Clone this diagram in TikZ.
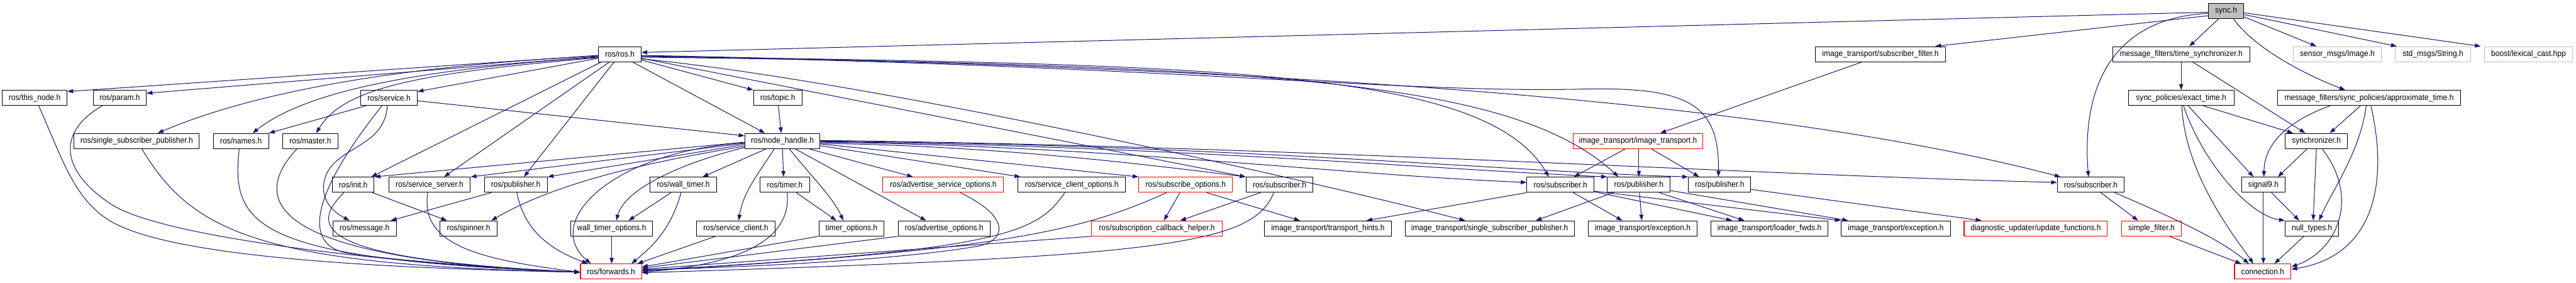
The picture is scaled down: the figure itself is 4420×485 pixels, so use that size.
\documentclass[tikz,border=0pt]{standalone}
\usepackage{fontspec}
\setmainfont{Liberation Sans}[FakeStretch=0.93]
\usetikzlibrary{arrows.meta}
\definecolor{edgec}{RGB}{25,25,112}
\definecolor{graybd}{RGB}{191,191,191}
\definecolor{redbd}{RGB}{255,0,0}
\begin{document}
\begin{tikzpicture}[x=1pt,y=-1pt,
  box/.style={draw=black, line width=1.1pt, fill=white, minimum height=26pt, inner sep=0pt, font=\fontsize{14}{16}\selectfont, text=black},
  redbox/.style={box, draw=redbd},
  extbox/.style={box, draw=graybd},
  rootbox/.style={box, fill=graybd},
  e/.style={draw=edgec, line width=1.1pt, -{Triangle[length=10pt,width=7pt]}}]
\useasboundingbox (0,0) rectangle (4420,485);
% row A
\node[rootbox, minimum width=61pt] (sync) at (3819.5,19) {sync.h};
% row B
\node[box, minimum width=73pt] (ros) at (1063.5,93) {ros/ros.h};
\node[box, minimum width=223pt] (subfilter) at (3226.5,93) {image\_transport/subscriber\_filter.h};
\node[box, minimum width=235pt] (timesync) at (3742.5,93) {message\_filters/time\_synchronizer.h};
\node[extbox, minimum width=151pt] (img) at (4010.5,93) {sensor\_msgs/Image.h};
\node[extbox, minimum width=129pt] (str) at (4174.5,93) {std\_msgs/String.h};
\node[extbox, minimum width=151pt] (lex) at (4338.5,93) {boost/lexical\_cast.hpp};
% row C
\node[box, minimum width=111pt] (thisnode) at (59.5,168) {ros/this\_node.h};
\node[box, minimum width=91pt] (param) at (205.5,168) {ros/param.h};
\node[box, minimum width=97pt] (service) at (667.5,168) {ros/service.h};
\node[box, minimum width=83pt] (topic) at (1334.5,168) {ros/topic.h};
\node[box, minimum width=181pt] (exact) at (3742.5,168) {sync\_policies/exact\_time.h};
\node[box, minimum width=314pt] (approx) at (4065,168) {message\_filters/sync\_policies/approximate\_time.h};
% row D
\node[box, minimum width=215pt] (ssp) at (234.5,242) {ros/single\_subscriber\_publisher.h};
\node[box, minimum width=95pt] (names) at (413.5,242) {ros/names.h};
\node[box, minimum width=95pt] (master) at (532.5,242) {ros/master.h};
\node[box, minimum width=129pt] (nh) at (1342.5,242) {ros/node\_handle.h};
\node[redbox, minimum width=223pt] (itrans) at (2810.5,242) {image\_transport/image\_transport.h};
\node[box, minimum width=107pt] (synchronizer) at (3974.5,242) {synchronizer.h};
% row E
\node[box, minimum width=72pt] (init) at (606,317) {ros/init.h};
\node[box, minimum width=140pt] (sserver) at (737,317) {ros/service\_server.h};
\node[box, minimum width=108pt] (pub1) at (885,317) {ros/publisher.h};
\node[box, minimum width=115pt] (wtimer) at (1172.5,317) {ros/wall\_timer.h};
\node[box, minimum width=85pt] (timer) at (1346.5,317) {ros/timer.h};
\node[redbox, minimum width=207pt] (aso) at (1618.5,317) {ros/advertise\_service\_options.h};
\node[box, minimum width=184pt] (sco) at (1839,317) {ros/service\_client\_options.h};
\node[redbox, minimum width=161pt] (subopts) at (2034.5,317) {ros/subscribe\_options.h};
\node[box, minimum width=115pt] (sub1) at (2195.5,317) {ros/subscriber.h};
\node[box, minimum width=115pt] (sub2) at (2677.5,317) {ros/subscriber.h};
\node[box, minimum width=108pt] (pub2) at (2812,317) {ros/publisher.h};
\node[box, minimum width=107pt] (pub3) at (2950.5,317) {ros/publisher.h};
\node[box, minimum width=115pt] (sub3) at (3587.5,317) {ros/subscriber.h};
\node[box, minimum width=75pt] (signal9) at (3883.5,317) {signal9.h};
% row F
\node[box, minimum width=109pt] (message) at (625.5,392) {ros/message.h};
\node[box, minimum width=98pt] (spinner) at (804,392) {ros/spinner.h};
\node[box, minimum width=141pt] (wto) at (1049.5,392) {wall\_timer\_options.h};
\node[box, minimum width=135pt] (sclient) at (1262.5,392) {ros/service\_client.h};
\node[box, minimum width=112pt] (topts) at (1461,392) {timer\_options.h};
\node[box, minimum width=158pt] (adopts) at (1620,392) {ros/advertise\_options.h};
\node[redbox, minimum width=224pt] (sch) at (1985,392) {ros/subscription\_callback\_helper.h};
\node[box, minimum width=217pt] (hints) at (2278.5,392) {image\_transport/transport\_hints.h};
\node[box, minimum width=290pt] (itssp) at (2556,392) {image\_transport/single\_subscriber\_publisher.h};
\node[box, minimum width=187pt] (exc1) at (2818.5,392) {image\_transport/exception.h};
\node[box, minimum width=200pt] (loader) at (3036,392) {image\_transport/loader\_fwds.h};
\node[box, minimum width=188pt] (exc2) at (3253,392) {image\_transport/exception.h};
\node[redbox, minimum width=246pt] (diag) at (3493,392) {diagnostic\_updater/update\_functions.h};
\node[redbox, minimum width=103pt] (simple) at (3691.5,392) {simple\_filter.h};
\node[box, minimum width=92pt] (nulltypes) at (3967,392) {null\_types.h};
% row G
\node[redbox, minimum width=105pt] (forwards) at (1048.5,466) {ros/forwards.h};
\node[redbox, minimum width=97pt] (connection) at (3882.5,466) {connection.h};

% ---- sync.h
\draw[e] ([yshift=-2pt]sync.west) -- ([yshift=3pt]ros.east);
\draw[e] ([yshift=-8pt]sync.west) -- ([xshift=94pt]subfilter.north);
\draw[e] ([yshift=-4pt]sync.west) .. controls (3640,30) and (3570,130) .. ([xshift=-4pt]sub3.north);
\draw[e] ([xshift=-13pt]sync.south) -- ([xshift=14pt]timesync.north);
\draw[e] ([xshift=13pt]sync.south) .. controls (3870,85) and (3960,130) .. ([xshift=-41pt]approx.north);
\draw[e] ([yshift=-10pt]sync.east) -- ([xshift=-36pt]img.north);
\draw[e] ([yshift=-6pt]sync.east) -- ([xshift=-62pt]str.north);
\draw[e] ([yshift=-3pt]sync.east) -- ([xshift=-82pt]lex.north);
% ---- message filters part
\draw[e] ([xshift=-32pt]subfilter.south) -- ([xshift=38pt]itrans.north);
\draw[e] (timesync.south) -- (exact.north);
\draw[e] ([xshift=20pt]timesync.south) -- ([xshift=-19pt]synchronizer.north);
\draw[e] ([xshift=38pt]exact.south) -- ([xshift=-40pt]synchronizer.north);
\draw[e] ([xshift=12pt]exact.south) -- ([xshift=-17pt]signal9.north);
\draw[e] ([xshift=4pt]exact.south) .. controls (3780,280) and (3860,370) .. (nulltypes.north west);
\draw[e] ([xshift=1pt]exact.south) .. controls (3750,300) and (3830,400) .. ([xshift=-16pt]connection.north);
\draw[e] ([xshift=-15pt]approx.south) -- ([xshift=23pt]synchronizer.north);
\draw[e] ([xshift=-67pt]approx.south) .. controls (3920,210) and (3885,250) .. ([xshift=1pt]signal9.north);
\draw[e] ([xshift=-5pt]approx.south) .. controls (4050,260) and (4000,330) .. ([xshift=12pt]nulltypes.north);
\draw[e] ([xshift=3pt]approx.south) .. controls (4100,320) and (4070,440) .. ([yshift=4pt]connection.east);
\draw[e] ([xshift=-16pt]synchronizer.south) -- ([xshift=25pt]signal9.north);
\draw[e] (synchronizer.south) -- ([xshift=2pt]nulltypes.north);
\draw[e] ([xshift=10pt]synchronizer.south) .. controls (4050,340) and (4010,430) .. ([yshift=8pt]connection.east);
\draw[e] (signal9.south) -- (signal9.south |- connection.north);
\draw[e] ([xshift=14pt]signal9.south) -- ([xshift=-22pt]nulltypes.north);
\draw[e] ([xshift=-14pt]nulltypes.south) -- ([xshift=20pt]connection.north);
\draw[e] ([xshift=17pt]sub3.south) -- ([xshift=-23pt]simple.north);
\draw[e] ([xshift=41pt]sub3.south) .. controls (3720,370) and (3810,410) .. ([xshift=-24pt]connection.north);
\draw[e] ([xshift=31pt]simple.south) -- ([xshift=-37pt]connection.north);
% ---- image_transport
\draw[e] ([xshift=-22pt]itrans.south) -- ([xshift=23pt]sub2.north);
\draw[e] ([xshift=1.5pt]itrans.south) -- (pub2.north);
\draw[e] ([xshift=23pt]itrans.south) -- ([xshift=-35pt]pub3.north);
% ---- ros.h
\draw[e] ([yshift=-2pt]ros.west) -- ([yshift=11pt]thisnode.east);
\draw[e] ([yshift=-4pt]ros.west) -- ([yshift=8pt]param.east);
\draw[e] ([yshift=-7pt]ros.west) -- ([yshift=11pt]service.east);
\draw[e] ([yshift=-3pt]ros.west) .. controls (650,115) and (420,165) .. ([xshift=36pt]ssp.north);
\draw[e] ([yshift=-5pt]ros.west) .. controls (700,120) and (520,160) .. ([xshift=20pt]names.north);
\draw[e] ([yshift=-6pt]ros.west) .. controls (720,125) and (590,150) .. ([xshift=10pt]master.north);
\draw[e] ([xshift=-32pt]ros.south) -- ([xshift=31pt]init.north);
\draw[e] ([xshift=-18pt]ros.south) -- ([xshift=25pt]sserver.north);
\draw[e] ([xshift=-10pt]ros.south) -- ([xshift=14pt]pub1.north);
\draw[e] ([xshift=22pt]ros.south) -- ([xshift=-30pt]nh.north);
\draw[e] ([yshift=-10pt]ros.east) -- (topic.north west);
\draw[e] ([yshift=-7pt]ros.east) -- (sub1.north west);
\draw[e] ([yshift=-8pt]ros.east) .. controls (1500,140) and (2250,310) .. ([xshift=-42pt]itssp.north);
\draw[e] ([yshift=-4pt]ros.east) .. controls (2100,110) and (2550,120) .. ([xshift=-20pt]sub2.north);
\draw[e] ([yshift=-5pt]ros.east) .. controls (2200,112) and (2600,140) .. ([xshift=-35pt]pub2.north);
\draw[e] ([yshift=-3pt]ros.east) .. controls (2000,112) and (2400,160) .. (2711,153) .. controls (2900,148) and (2950,180) .. ([xshift=-2pt]pub3.north);
\draw[e] ([yshift=-2pt]ros.east) .. controls (2400,120) and (3100,190) .. ([xshift=-52pt]sub3.north);
\draw[e] ([xshift=1pt]topic.south) -- ([xshift=-2pt]nh.north);
% ---- service.h
\draw[e] ([yshift=-5pt]service.east) -- ([yshift=9pt]nh.west);
\draw[e] ([xshift=-40pt]service.south) -- (names.north east);
\draw[e] ([xshift=-12pt]service.south) .. controls (560,300) and (500,420) .. (600,435) .. controls (700,450) and (900,462) .. ([yshift=-1pt]forwards.west);
\draw[e] ([xshift=-3pt]service.south) .. controls (660,260) and (560,250) .. (555,320) .. controls (555,350) and (575,365) .. ([xshift=-26pt]message.north);
% ---- into forwards from the left
\draw[e] ([xshift=7pt]thisnode.south) .. controls (110,280) and (130,350) .. (200,385) .. controls (330,450) and (750,462) .. ([yshift=-1pt]forwards.west);
\draw[e] ([xshift=-30pt]param.south) .. controls (100,225) and (100,290) .. (190,350) .. controls (280,410) and (700,455) .. ([yshift=-1pt]forwards.west);
\draw[e] ([xshift=9pt]ssp.south) .. controls (330,400) and (450,455) .. ([yshift=-1pt]forwards.west);
\draw[e] ([xshift=-3pt]names.south) .. controls (395,390) and (440,445) .. ([yshift=-1pt]forwards.west);
\draw[e] ([xshift=-23pt]master.south) .. controls (430,340) and (450,445) .. ([yshift=-1pt]forwards.west);
\draw[e] ([xshift=-16pt]init.south) .. controls (530,390) and (540,445) .. ([yshift=-1pt]forwards.west);
\draw[e] ([xshift=-3pt]sserver.south) .. controls (720,420) and (820,445) .. ([yshift=-1pt]forwards.west);
\draw[e] ([xshift=2pt]pub1.south) .. controls (900,400) and (950,430) .. ([xshift=-40pt]forwards.north);
\draw[e] ([xshift=33pt]init.south) -- ([xshift=-37pt]spinner.north);
\draw[e] ([xshift=-42pt]pub1.south) -- ([xshift=-10pt]message.north east);
% ---- node_handle.h
\draw[e] ([yshift=-3pt]nh.west) .. controls (1050,260) and (930,380) .. ([xshift=-35pt]forwards.north);
\draw[e] ([yshift=-4pt]nh.west) -- (sserver.north east);
\draw[e] ([yshift=-6pt]nh.west) -- (pub1.north east);
\draw[e] ([yshift=-2pt]nh.west) -- (init.north east);
\draw[e] ([yshift=-9pt]nh.west) .. controls (1130,275) and (960,310) .. ([xshift=39pt]spinner.north);
\draw[e] ([yshift=-11pt]nh.west) .. controls (1150,285) and (1070,330) .. ([xshift=8pt]wto.north);
\draw[e] ([xshift=-28pt]nh.south) -- ([xshift=33pt]wtimer.north);
\draw[e] ([xshift=-14pt]nh.south) .. controls (1300,300) and (1275,330) .. ([xshift=5pt]sclient.north);
\draw[e] (nh.south) -- ([xshift=-2pt]timer.north);
\draw[e] ([xshift=12pt]nh.south) .. controls (1390,300) and (1430,340) .. ([xshift=-14pt]topts.north);
\draw[e] ([xshift=22pt]nh.south) -- ([xshift=-31pt]adopts.north);
\draw[e] ([xshift=46pt]nh.south) -- ([xshift=-52pt]aso.north);
\draw[e] ([yshift=-8pt]nh.east) -- ([xshift=-88pt]sco.north);
\draw[e] ([yshift=-5pt]nh.east) -- (subopts.north west);
\draw[e] ([yshift=-4pt]nh.east) .. controls (1700,250) and (1950,280) .. (sub1.north west);
\draw[e] ([yshift=-2pt]nh.east) .. controls (1900,250) and (2300,300) .. ([yshift=4pt]sub2.west);
\draw[e] ([yshift=-1pt]nh.east) .. controls (2000,250) and (2450,290) .. (pub2.north west);
\draw[e] (nh.east) .. controls (2100,248) and (2600,295) .. (pub3.north west);
\draw[e] ([yshift=1pt]nh.east) .. controls (2200,250) and (3000,300) .. ([yshift=4pt]sub3.west);
% ---- timers, options
\draw[e] ([xshift=-21pt]wtimer.south) -- ([xshift=29pt]wto.north);
\draw[e] ([xshift=-4pt]wtimer.south) .. controls (1150,400) and (1110,430) .. ([xshift=35pt]forwards.north);
\draw[e] (wto.south) -- (wto.south |- forwards.north);
\draw[e] ([xshift=-35pt]sclient.south) -- ([xshift=45pt]forwards.north);
\draw[e] ([xshift=20pt]timer.south) -- ([xshift=-26pt]topts.north);
\draw[e] ([xshift=4pt]timer.south) .. controls (1360,420) and (1250,455) .. ([yshift=-1pt]forwards.east);
\draw[e] (topts.south west) -- ([yshift=8pt]forwards.east);
\draw[e] (adopts.south west) -- ([yshift=6pt]forwards.east);
\draw[e] (sch.south west) -- ([yshift=4pt]forwards.east);
\draw[e] ([xshift=29pt]aso.south) .. controls (1730,370) and (1730,410) .. (1680,422) .. controls (1550,445) and (1300,458) .. ([yshift=3pt]forwards.east);
\draw[e] ([xshift=-12pt]sco.south) .. controls (1780,400) and (1720,430) .. ([yshift=2pt]forwards.east);
\draw[e] ([xshift=-33pt]subopts.south) .. controls (1850,400) and (1700,430) .. ([yshift=1pt]forwards.east);
\draw[e] ([xshift=-10pt]subopts.south) -- ([xshift=12pt]sch.north);
\draw[e] ([xshift=36pt]subopts.south) -- ([xshift=-48pt]hints.north);
\draw[e] ([xshift=-33pt]sub1.south) -- ([xshift=40pt]sch.north);
\draw[e] ([xshift=-10pt]sub1.south) .. controls (2150,420) and (2000,440) .. ([yshift=-2pt]forwards.east);
% ---- subscriber / publisher to image_transport
\draw[e] (sub2.south west) -- ([xshift=66pt]hints.north);
\draw[e] ([xshift=22pt]sub2.south) -- ([xshift=-35pt]exc1.north);
\draw[e] ([yshift=-12pt]sub2.east) -- ([xshift=-64pt]loader.north);
\draw[e] ([yshift=-11pt]sub2.east) -- (exc2.north west);
\draw[e] ([xshift=-44pt]pub2.south) -- ([xshift=79pt]itssp.north);
\draw[e] ([xshift=1pt]pub2.south) -- ([xshift=-1.5pt]exc1.north);
\draw[e] ([xshift=35pt]pub2.south) -- ([xshift=-43pt]loader.north);
\draw[e] ([yshift=-10pt]pub2.east) -- ([xshift=-82pt]exc2.north);
\draw[e] ([yshift=-8pt]pub3.east) -- ([xshift=-93pt]diag.north);
\end{tikzpicture}
\end{document}
